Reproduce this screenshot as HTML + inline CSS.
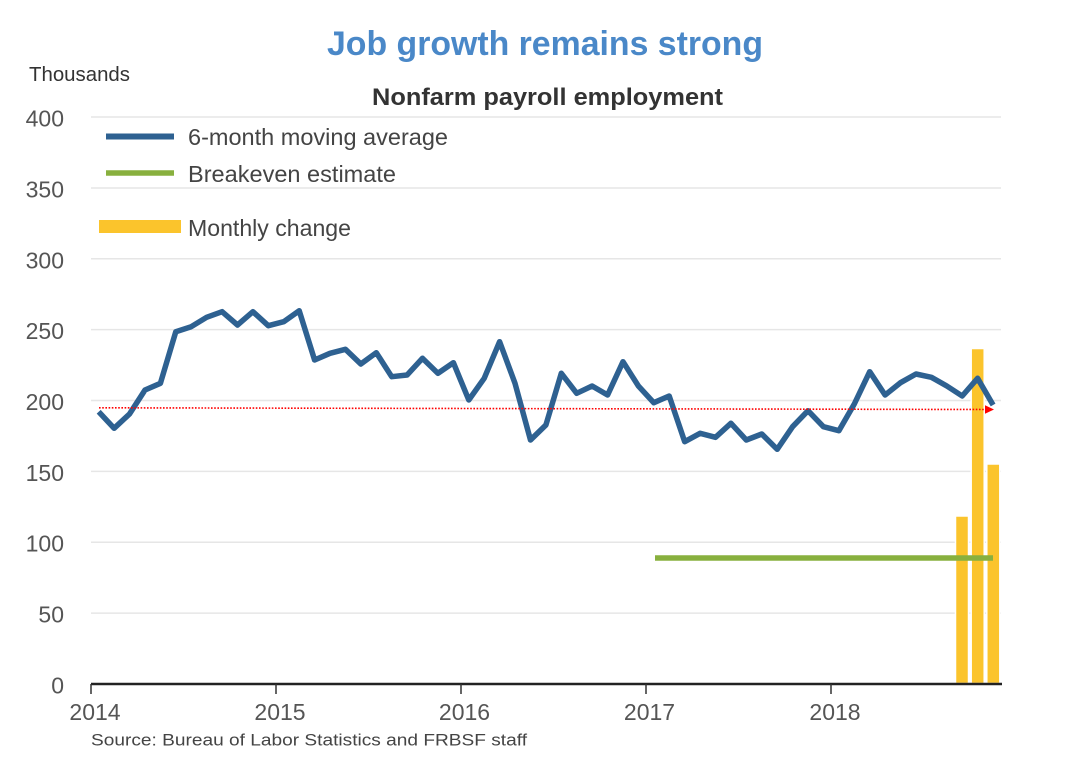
<!DOCTYPE html>
<html>
<head>
<meta charset="utf-8">
<style>
  html, body { margin: 0; padding: 0; background: #ffffff; }
  svg { display: block; }
  text { font-family: "Liberation Sans", Arial, sans-serif; }
</style>
</head>
<body>
<svg width="1070" height="760" viewBox="0 0 1070 760" xmlns="http://www.w3.org/2000/svg">
  <rect x="0" y="0" width="1070" height="760" fill="#ffffff"/>

  <!-- Titles -->
  <text x="327" y="55" font-size="34" font-weight="bold" fill="#4a88c8" textLength="436" lengthAdjust="spacingAndGlyphs">Job growth remains strong</text>
  <text x="372" y="105" font-size="24" font-weight="bold" fill="#333333" textLength="351" lengthAdjust="spacingAndGlyphs">Nonfarm payroll employment</text>
  <text x="29" y="81" font-size="20" fill="#333333" textLength="101" lengthAdjust="spacingAndGlyphs">Thousands</text>

  <!-- Gridlines -->
  <g stroke="#e6e6e6" stroke-width="1.5">
    <line x1="91" y1="117" x2="1001" y2="117"/>
    <line x1="91" y1="188" x2="1001" y2="188"/>
    <line x1="91" y1="258.8" x2="1001" y2="258.8"/>
    <line x1="91" y1="329.6" x2="1001" y2="329.6"/>
    <line x1="91" y1="400.5" x2="1001" y2="400.5"/>
    <line x1="91" y1="471.4" x2="1001" y2="471.4"/>
    <line x1="91" y1="542.2" x2="1001" y2="542.2"/>
    <line x1="91" y1="613.1" x2="1001" y2="613.1"/>
  </g>

  <!-- Y tick labels -->
  <g font-size="23" fill="#555555" text-anchor="end">
    <text x="64" y="126.5">400</text>
    <text x="64" y="197.5">350</text>
    <text x="64" y="268.3">300</text>
    <text x="64" y="339.1">250</text>
    <text x="64" y="410">200</text>
    <text x="64" y="480.9">150</text>
    <text x="64" y="551.7">100</text>
    <text x="64" y="622.6">50</text>
    <text x="64" y="693.5">0</text>
  </g>

  <!-- Legend -->
  <line x1="106" y1="136.5" x2="174" y2="136.5" stroke="#2e6191" stroke-width="6"/>
  <text x="188" y="145" font-size="23.5" fill="#444444" textLength="260" lengthAdjust="spacingAndGlyphs">6-month moving average</text>
  <line x1="106" y1="173" x2="174" y2="173" stroke="#88b03e" stroke-width="5.5"/>
  <text x="188" y="182" font-size="23.5" fill="#444444" textLength="208" lengthAdjust="spacingAndGlyphs">Breakeven estimate</text>
  <rect x="99" y="220" width="82" height="13" fill="#fbc42c"/>
  <text x="188" y="236" font-size="23.5" fill="#444444" textLength="163" lengthAdjust="spacingAndGlyphs">Monthly change</text>

  <!-- Monthly change bars -->
  <g fill="#fbc42c" stroke="#ffffff" stroke-width="1.5">
    <rect x="955.5" y="516" width="13" height="167.5"/>
    <rect x="971.2" y="348.5" width="13" height="335"/>
    <rect x="986.8" y="464" width="13" height="219.5"/>
  </g>

  <!-- Breakeven estimate -->
  <line x1="655" y1="558" x2="993" y2="558" stroke="#88b03e" stroke-width="5.5"/>

  <!-- 6-month moving average -->
  <polyline fill="none" stroke="#2e6191" stroke-width="5.5" stroke-linejoin="round" stroke-linecap="butt"
    points="
98.7,411.7 114.1,428.3 129.5,414 145,390 160.4,383.3 175.8,331.7 191.2,326.7 206.6,317.3 222.1,311.7 237.5,325
252.9,311.7 268.3,325.7 283.7,321.7 299.2,310.7 314.6,360 330,353.3 345.4,349.3 360.8,364 376.3,352.7 391.7,376.7
407.1,375 422.5,358.3 437.9,373.3 453.4,362.7 468.8,400 484.2,378.3 499.6,341.7 515,383.3 530.5,440 545.9,425
561.3,373.3 576.7,393.3 592.1,386 607.6,395 623,361.7 638.4,386 653.8,402.7 669.2,396 684.7,441.7 700.1,433.3
715.5,437.3 730.9,423.3 746.3,440 761.8,434 777.2,449.3 792.6,426.7 808,410.7 823.4,426.7 838.9,430.7 854.3,404
869.7,371.7 885.1,395 900.5,382.7 916,374 931.4,377.3 946.8,386 962.2,396 977.6,378.3 993.1,405"/>

  <!-- Red dotted reference arrow -->
  <line x1="99" y1="407.8" x2="986" y2="409.5" stroke="#ff0000" stroke-width="1.6" stroke-dasharray="1.6 1.6"/>
  <polygon points="985,405.3 994,409.5 985,413.7" fill="#ff0000"/>

  <!-- X axis -->
  <line x1="91" y1="684" x2="1002" y2="684" stroke="#222222" stroke-width="2.5"/>
  <g stroke="#333333" stroke-width="1.5">
    <line x1="91" y1="684" x2="91" y2="694"/>
    <line x1="276" y1="684" x2="276" y2="694"/>
    <line x1="461" y1="684" x2="461" y2="694"/>
    <line x1="646" y1="684" x2="646" y2="694"/>
    <line x1="831" y1="684" x2="831" y2="694"/>
  </g>
  <g font-size="23" fill="#555555" text-anchor="middle">
    <text x="95" y="720">2014</text>
    <text x="280" y="720">2015</text>
    <text x="464.5" y="720">2016</text>
    <text x="649.5" y="720">2017</text>
    <text x="835" y="720">2018</text>
  </g>

  <!-- Source -->
  <text x="91" y="745.5" font-size="17" fill="#444444" textLength="436" lengthAdjust="spacingAndGlyphs">Source: Bureau of Labor Statistics and FRBSF staff</text>
</svg>
</body>
</html>
